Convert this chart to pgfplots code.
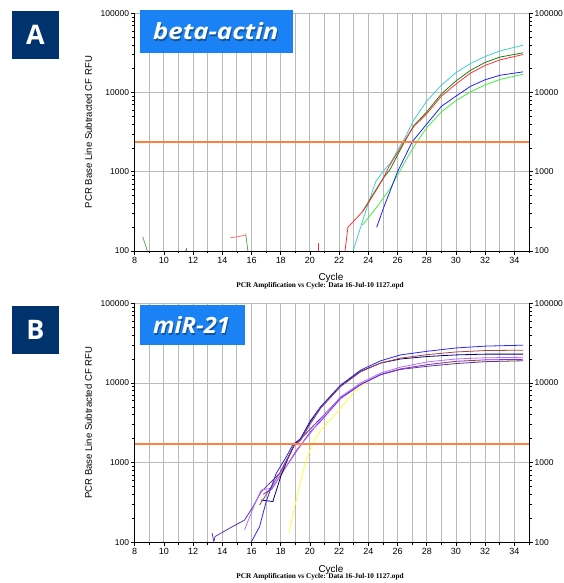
\documentclass[border=0pt]{standalone}
\usepackage{pgfplots}
\pgfplotsset{compat=1.18}
\usepackage{fontspec}
\setmainfont{Liberation Sans}
\newfontfamily\titlefont{Open Sans}
\newfontfamily\serifb{Liberation Serif}
\definecolor{navybox}{RGB}{0,51,110}
\definecolor{bluebox}{RGB}{26,130,245}
\definecolor{thrA}{RGB}{255,128,64}
\definecolor{gridc}{RGB}{185,185,185}
\definecolor{cA1}{RGB}{255,50,50}
\definecolor{cA2}{RGB}{20,130,20}
\definecolor{cA2l}{RGB}{90,170,90}
\definecolor{cA1l}{RGB}{255,110,110}
\definecolor{cA3}{RGB}{64,208,208}
\definecolor{cA4}{RGB}{32,32,255}
\definecolor{cA5}{RGB}{64,240,64}
\definecolor{cB1}{RGB}{40,40,255}
\definecolor{cB2}{RGB}{170,70,70}
\definecolor{cB3}{RGB}{0,0,128}
\definecolor{cB4}{RGB}{90,50,180}
\definecolor{cB5}{RGB}{180,110,255}
\definecolor{cB6}{RGB}{130,40,230}
\definecolor{cB7}{RGB}{255,255,60}
\begin{document}
\begin{tikzpicture}
\useasboundingbox (0,0) rectangle (564bp,583bp);
% ---------------- Panel A ----------------
\begin{axis}[at={(134.7bp,332bp)}, anchor=south west,
    scale only axis, width=394.3bp, height=237.7bp,
    xmin=8, xmax=35, ymode=log, ymin=100, ymax=100000,
    xtick={8,10,...,34}, minor xtick={9,11,...,35},
    ytick={100,1000,10000,100000},
    yticklabels={100,1000,10000,100000},
    yticklabel style={font=\fontsize{8.5}{10}\selectfont, inner sep=1.5bp},
    xticklabel style={font=\fontsize{9}{10}\selectfont, inner sep=2bp, /pgf/number format/assume math mode=true},
    xmajorgrids, xminorgrids, ymajorgrids,
    major grid style={gridc, line width=0.9bp},
    minor grid style={gridc, line width=0.9bp},
    axis x line*=bottom, axis y line*=left,
    axis line style={black, line width=0.8bp, -},
    tick style={black, line width=0.6bp},
    tick align=outside,
    major tick length=4bp, minor tick length=2.5bp]
\addplot[cA2l, line width=0.8bp] coordinates {(8.55,151) (8.87,100)};
\addplot[cA2, line width=0.8bp] coordinates {(11.5,100) (11.57,108)};
\addplot[cA1l, line width=0.8bp] coordinates {(14.55,147) (15.1,152) (15.6,159)};
\addplot[cA2l, line width=0.8bp] coordinates {(15.6,166) (15.75,100)};
\addplot[cA1, line width=0.8bp] coordinates {(20.6,100) (20.6,126)};
\addplot[cA5, line width=0.8bp] coordinates {(23.6,213)(24.6,362)(25.5,618)(26.7,1550)(27.4,2500)(28,3600)(29,5700)(30,7900)(31,10200)(32,12500)(33,14600)(34.6,17060)};
\addplot[cA4, line width=0.8bp] coordinates {(24.57,199)(25.07,362)(26,1000)(27,2390)(28,4000)(29,6700)(30,9000)(31,12000)(32,14500)(33,16500)(34.6,18240)};
\addplot[cA3, line width=0.8bp] coordinates {(22.95,100)(23.7,271)(24.5,748)(25.07,1050)(25.5,1276)(26.2,2170)(26.45,2550)(27.1,4480)(28,7800)(29,12400)(30,17800)(31,23300)(32,28500)(33,33500)(34.6,39600)};
\addplot[cA2, line width=0.8bp] coordinates {(23.6,313)(24.05,430)(24.96,800)(25.5,1080)(26.4,2250)(27.1,3800)(28,5700)(29,9600)(30,14000)(31,19100)(32,24000)(33,28000)(34.6,31700)};
\addplot[cA1, line width=0.8bp] coordinates {(22.4,100)(22.6,199)(23.6,313)(24.05,418)(24.96,786)(25.4,1156)(26.1,1880)(26.5,2500)(27.1,3700)(28,5400)(29,9000)(30,12800)(31,17600)(32,22000)(33,25800)(34.6,30200)};
\addplot[draw={rgb,255:red,255;green,128;blue,64}, line width=1.8bp] coordinates {(8,2350) (34.99,2350)};
\end{axis}
\begin{axis}[at={(134.7bp,332bp)}, anchor=south west,
    scale only axis, width=394.3bp, height=237.7bp,
    xmin=8, xmax=35, ymode=log, ymin=100, ymax=100000,
    ytick={100,1000,10000,100000},
    yticklabels={100,1000,10000,100000},
    yticklabel style={font=\fontsize{8.5}{10}\selectfont, inner sep=1.5bp},
    axis y line*=right, axis x line=none,
    axis line style={black, line width=0.8bp, -},
    tick style={black, line width=0.6bp},
    tick align=outside, major tick length=4bp, minor tick length=2.5bp]
\addplot[draw=none] coordinates {(8,100)};
\end{axis}
% ---------------- Panel B ----------------
\begin{axis}[at={(134.7bp,40.7bp)}, anchor=south west,
    scale only axis, width=394.3bp, height=239bp,
    xmin=8, xmax=35, ymode=log, ymin=100, ymax=100000,
    xtick={8,10,...,34}, minor xtick={9,11,...,35},
    ytick={100,1000,10000,100000},
    yticklabels={100,1000,10000,100000},
    yticklabel style={font=\fontsize{8.5}{10}\selectfont, inner sep=1.5bp},
    xticklabel style={font=\fontsize{9}{10}\selectfont, inner sep=2bp, /pgf/number format/assume math mode=true},
    xmajorgrids, xminorgrids, ymajorgrids,
    major grid style={gridc, line width=0.9bp},
    minor grid style={gridc, line width=0.9bp},
    axis x line*=bottom, axis y line*=left,
    axis line style={black, line width=0.8bp, -},
    tick style={black, line width=0.6bp},
    tick align=outside,
    major tick length=4bp, minor tick length=2.5bp]
\addplot[cB7, line width=0.8bp] coordinates {(18.56,130)(18.95,280)(19.29,498)(19.7,1020)(20.15,1690)(20.73,2560)(21.6,3760)(22.1,4790)(23,7730)(23.9,10330)(24.85,12800)(26.2,15000)(28.05,17000)(30,18300)(32,18800)(34.6,19000)};
\addplot[cB4, line width=0.8bp] coordinates {(13.3,130)(13.42,102)(13.5,118)(14.6,154)(15.52,190)(16.1,280)(16.66,431)(17.92,733)(18.95,1690)(19.5,2100)(20.73,3600)(22.1,6500)(23.47,9600)(24.85,12700)(26.2,14800)(28.05,16200)(30,17500)(32,18500)(34.6,19000)};
\addplot[cB6, line width=0.8bp] coordinates {(16.8,400)(17.4,470)(18.2,800)(19.2,1500)(20,2400)(20.73,3300)(22.1,6400)(23.47,9500)(24.85,12800)(26.2,15000)(28.05,17000)(30,18700)(32,19500)(34.6,19800)};
\addplot[cB5, line width=0.8bp] coordinates {(15.52,143)(16.1,267)(16.66,453)(17.35,476)(18.03,698)(19.06,1436)(19.4,1690)(20,2300)(20.73,3500)(22.1,6700)(23.47,10000)(24.85,13300)(26.2,15800)(28.05,18400)(30,20000)(32,20700)(34.6,21000)};
\addplot[cB3, line width=0.8bp] coordinates {(16.66,339)(17.46,325)(18.03,698)(18.5,1130)(18.95,1690)(19.36,2000)(20,3200)(20.73,5000)(22.1,9300)(23.47,14000)(24.85,17800)(26.2,20000)(28.05,21500)(30,22500)(32,23000)(34.6,23000)};
\addplot[cB2, line width=0.8bp] coordinates {(16.55,294)(17.35,498)(18.15,847)(18.84,1580)(19.36,1900)(20,3000)(20.73,4800)(22.1,9000)(23.47,13800)(24.85,17800)(26.2,20500)(28.05,22700)(30,24500)(32,25500)(34.6,25800)};
\addplot[cB1, line width=0.8bp] coordinates {(15.97,100)(16.55,157)(17,323)(17.69,733)(18.38,1184)(18.84,1690)(19.36,2000)(20,3300)(20.73,5000)(22.1,9400)(23.47,14500)(24.85,19000)(26.2,22500)(28.05,25000)(30,27500)(32,29000)(34.6,29800)};
\addplot[draw={rgb,255:red,255;green,128;blue,64}, line width=1.8bp] coordinates {(8,1700) (34.99,1700)};
\end{axis}
\begin{axis}[at={(134.7bp,40.7bp)}, anchor=south west,
    scale only axis, width=394.3bp, height=239bp,
    xmin=8, xmax=35, ymode=log, ymin=100, ymax=100000,
    ytick={100,1000,10000,100000},
    yticklabels={100,1000,10000,100000},
    yticklabel style={font=\fontsize{8.5}{10}\selectfont, inner sep=1.5bp},
    axis y line*=right, axis x line=none,
    axis line style={black, line width=0.8bp, -},
    tick style={black, line width=0.6bp},
    tick align=outside, major tick length=4bp, minor tick length=2.5bp]
\addplot[draw=none] coordinates {(8,100)};
\end{axis}
% ---------------- labels ----------------
\node[rotate=90, font=\fontsize{9.6}{11}\selectfont] at (88.5bp,451bp) {PCR Base Line Subtracted CF RFU};
\node[rotate=90, font=\fontsize{9.6}{11}\selectfont] at (88.5bp,160.2bp) {PCR Base Line Subtracted CF RFU};
\node[font=\fontsize{10}{11}\selectfont] at (331bp,305bp) {Cycle};
\node[font=\fontsize{10}{11}\selectfont] at (331bp,13bp) {Cycle};
\node[font=\serifb\bfseries\fontsize{7.3}{8}\selectfont, inner sep=0] at (320bp,297bp) {PCR Amplification vs Cycle: Data 16-Jul-10 1127.opd};
\node[font=\serifb\bfseries\fontsize{7.3}{8}\selectfont, inner sep=0] at (320bp,6bp) {PCR Amplification vs Cycle: Data 16-Jul-10 1127.opd};
% boxes
\fill[navybox] (12bp,524bp) rectangle (59bp,572bp);
\node[text=white, font=\titlefont\bfseries\fontsize{27}{28}\selectfont] at (35.5bp,548bp) {A};
\fill[navybox] (12bp,229bp) rectangle (59bp,277bp);
\node[text=white, font=\titlefont\bfseries\fontsize{27}{28}\selectfont] at (35.5bp,253bp) {B};
\fill[bluebox] (140bp,530bp) rectangle (293bp,573bp);
\node[text=black, opacity=0.35, font=\titlefont\bfseries\itshape\fontsize{22.5}{24}\selectfont] at (216.8bp,550bp) {\scalebox{1.15}[1]{beta-actin}};
\node[text=white, font=\titlefont\bfseries\itshape\fontsize{22.5}{24}\selectfont] at (215.8bp,551.5bp) {\scalebox{1.15}[1]{beta-actin}};
\fill[bluebox] (140bp,238bp) rectangle (245bp,278bp);
\node[text=black, opacity=0.35, font=\titlefont\bfseries\itshape\fontsize{22.5}{24}\selectfont] at (192.5bp,256.5bp) {\scalebox{1.06}[1]{miR-21}};
\node[text=white, font=\titlefont\bfseries\itshape\fontsize{22.5}{24}\selectfont] at (191.5bp,258bp) {\scalebox{1.06}[1]{miR-21}};
\end{tikzpicture}
\end{document}
